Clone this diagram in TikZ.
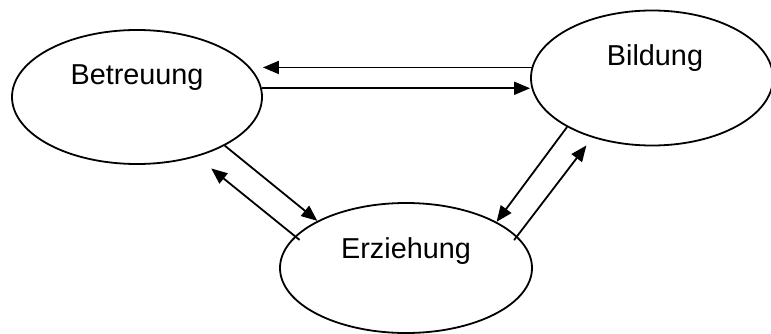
\documentclass[tikz,border=0pt]{standalone}
\usepackage{fontspec}
\setmainfont{Liberation Sans}
\usetikzlibrary{arrows.meta,shapes.geometric}
\begin{document}
\begin{tikzpicture}[x=1pt,y=-1pt,
  oval/.style={draw,ellipse,line width=1.8pt,inner sep=0pt},
  lbl/.style={anchor=base,inner sep=0pt,font=\fontsize{28.8}{34}\selectfont},
  arr/.style={line width=1.8pt,-{Triangle[length=16pt,width=13pt]}}]
\useasboundingbox (0,0) rectangle (771,334);
\clip (0,0) rectangle (771,334);
\node[oval,minimum width=250pt,minimum height=134pt] (bet) at (137,97) {};
\node[oval,minimum width=242pt,minimum height=135pt] (bil) at (652,78) {};
\node[oval,minimum width=252pt,minimum height=130pt] (erz) at (406,268) {};
\node[lbl] (betT) at (137,85) {Betreuung};
\node[lbl] (bilT) at (655,66) {Bildung};
\node[lbl] (erzT) at (406,258) {Erziehung};
% Betreuung <-> Bildung
\draw[arr] (bil.175.7) -- (bil.175.7 -| bet.east);
\draw[arr] (bet.4.15) -- (bet.4.15 -| bil.west);
% Betreuung <-> Erziehung
\draw[arr] (bet.-29.2) -- (erz.152.4);
\draw[arr,shorten <=-6pt,shorten >=18.6pt] (erz.164.7) -- (bet.-45.3);
% Bildung <-> Erziehung
\draw[arr] (bil.210.3) -- (erz.27.9);
\draw[arr,shorten <=-5pt,shorten >=9.8pt] (erz.16.1) -- (bil.225.7);
\end{tikzpicture}
\end{document}
